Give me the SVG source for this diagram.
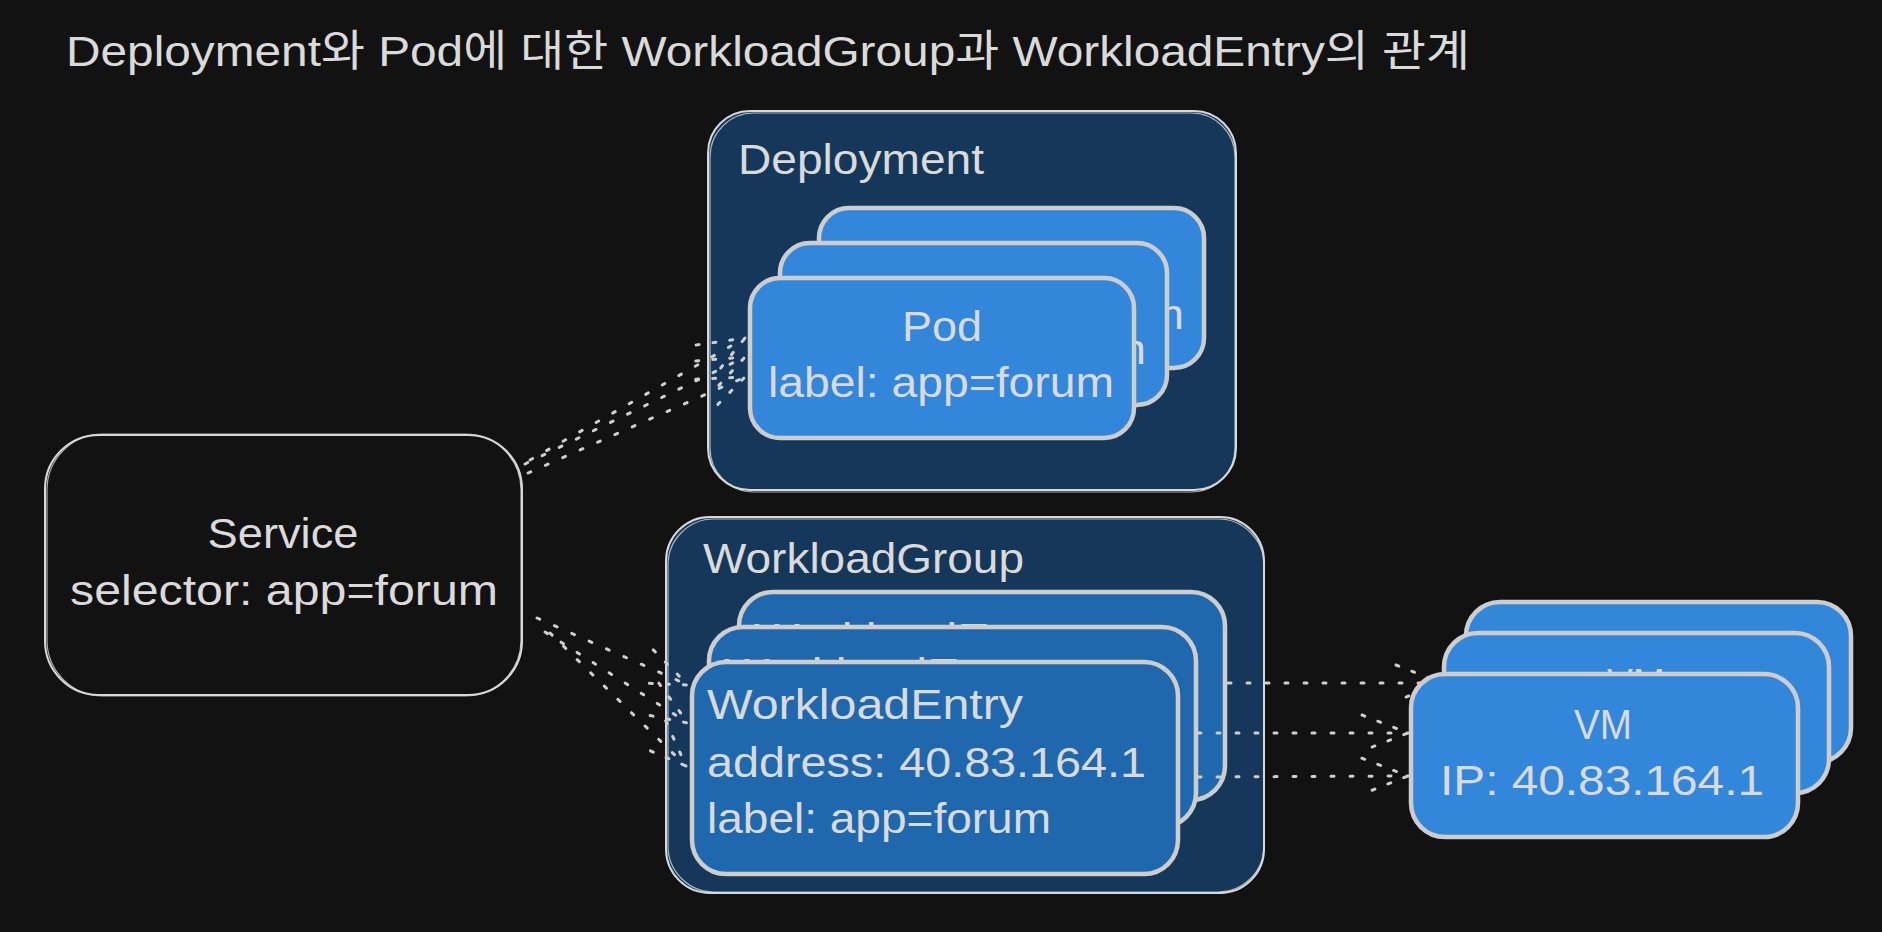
<svg xmlns="http://www.w3.org/2000/svg" width="1882" height="932" viewBox="0 0 1882 932">
<style>
text{font-family:"Liberation Sans","Noto Sans CJK KR",sans-serif;font-size:43px;fill:#dadada}
.c{text-anchor:middle}
.cont{fill:#15375a;stroke:#d8d8d8;stroke-width:2}
.sk{fill:none;stroke:#d8d8d8;stroke-width:1.2;opacity:.8}
.svc{fill:#121212;stroke:#d8d8d8;stroke-width:2}
.pod{fill:#3287db;stroke:#cdcdcd;stroke-width:4.5}
.we{fill:#2068ad;stroke:#cdcdcd;stroke-width:4.5}
.ln{fill:none;stroke:#cfcfcf;stroke-width:3;stroke-linecap:round;stroke-dasharray:3 16}
</style>
<defs>
<marker id="ah" markerUnits="userSpaceOnUse" orient="auto" refX="0" refY="0" markerWidth="60" markerHeight="60" viewBox="-55 -25 60 50" overflow="visible">
<path d="M-46,-18 L0,0 L-46,18" fill="none" stroke="#cfcfcf" stroke-width="3" stroke-linecap="round" stroke-dasharray="3 14"/>
</marker>
</defs>
<rect width="1882" height="932" fill="#121212"/>
<g id="title"><text x="66" y="66" textLength="1404" lengthAdjust="spacingAndGlyphs">Deployment와 Pod에 대한 WorkloadGroup과 WorkloadEntry의 관계</text></g>

<g id="deployment">
<rect class="cont" x="708" y="111" width="528" height="379" rx="42"/>
<rect class="sk" x="710" y="113" width="525" height="379" rx="44"/>
<text x="738" y="174" textLength="246" lengthAdjust="spacingAndGlyphs">Deployment</text>
</g>

<g id="workloadgroup">
<rect class="cont" x="666" y="517" width="598" height="376" rx="44"/>
<rect class="sk" x="668" y="519" width="596" height="373" rx="46"/>
<text x="703" y="573" textLength="321" lengthAdjust="spacingAndGlyphs">WorkloadGroup</text>
</g>

<g id="service">
<rect class="svc" x="45" y="435" width="477" height="260" rx="54"/>
<rect class="sk" x="47" y="434" width="474" height="262" rx="56"/>
<text class="c" x="283" y="548" textLength="151" lengthAdjust="spacingAndGlyphs">Service</text>
<text class="c" x="284" y="605" textLength="428" lengthAdjust="spacingAndGlyphs">selector: app=forum</text>
</g>

<g id="we-3">
<rect class="we" x="739" y="592" width="486" height="208" rx="34"/>
<text x="754" y="653" textLength="316" lengthAdjust="spacingAndGlyphs">WorkloadEntry</text>
<text x="754" y="710" textLength="439" lengthAdjust="spacingAndGlyphs">address: 40.83.164.1</text>
<text x="754" y="766" textLength="344" lengthAdjust="spacingAndGlyphs">label: app=forum</text>
</g>
<g id="we-2">
<rect class="we" x="709" y="627" width="487" height="200" rx="34"/>
<text x="724" y="688" textLength="316" lengthAdjust="spacingAndGlyphs">WorkloadEntry</text>
<text x="724" y="745" textLength="439" lengthAdjust="spacingAndGlyphs">address: 40.83.164.1</text>
<text x="724" y="801" textLength="344" lengthAdjust="spacingAndGlyphs">label: app=forum</text>
</g>
<g id="we-1">
<rect class="we" x="692" y="662" width="486" height="212" rx="34"/>
<text x="707" y="719" textLength="316" lengthAdjust="spacingAndGlyphs">WorkloadEntry</text>
<text x="707" y="777" textLength="439" lengthAdjust="spacingAndGlyphs">address: 40.83.164.1</text>
<text x="707" y="833" textLength="344" lengthAdjust="spacingAndGlyphs">label: app=forum</text>
</g>

<g id="pod-3">
<rect class="pod" x="819" y="208" width="385" height="160" rx="30"/>
<text class="c" x="1012" y="273" textLength="80" lengthAdjust="spacingAndGlyphs">Pod</text>
<text class="c" x="1011" y="329" textLength="346" lengthAdjust="spacingAndGlyphs">label: app=forum</text>
</g>
<g id="pod-2">
<rect class="pod" x="780" y="243" width="387" height="162" rx="30"/>
<text class="c" x="974" y="308" textLength="80" lengthAdjust="spacingAndGlyphs">Pod</text>
<text class="c" x="973" y="364" textLength="346" lengthAdjust="spacingAndGlyphs">label: app=forum</text>
</g>
<g id="pod-1">
<rect class="pod" x="750" y="278" width="384" height="160" rx="30"/>
<text class="c" x="942" y="341" textLength="80" lengthAdjust="spacingAndGlyphs">Pod</text>
<text class="c" x="941" y="397" textLength="346" lengthAdjust="spacingAndGlyphs">label: app=forum</text>
</g>

<g id="connectors">
<path class="ln" d="M530,460 L745,338" marker-end="url(#ah)"/>
<path class="ln" d="M525,464 L745,357" marker-end="url(#ah)"/>
<path class="ln" d="M528,473 L745,377" marker-end="url(#ah)"/>
<path class="ln" d="M537,618 L688,685" marker-end="url(#ah)"/>
<path class="ln" d="M545,632 L688,723" marker-end="url(#ah)"/>
<path class="ln" d="M550,633 L686,766" marker-end="url(#ah)"/>
<path class="ln" d="M1228,683 L1442,683" marker-end="url(#ah)"/>
<path class="ln" d="M1198,733 L1408,733" marker-end="url(#ah)"/>
<path class="ln" d="M1198,777 L1408,776" marker-end="url(#ah)"/>
</g>

<g id="vm-3">
<rect class="pod" x="1466" y="602" width="385" height="160" rx="34"/>
<text class="c" x="1658" y="667" textLength="58" lengthAdjust="spacingAndGlyphs">VM</text>
<text class="c" x="1657" y="723" textLength="324" lengthAdjust="spacingAndGlyphs">IP: 40.83.164.1</text>
</g>
<g id="vm-2">
<rect class="pod" x="1444" y="633" width="385" height="160" rx="34"/>
<text class="c" x="1636" y="698" textLength="58" lengthAdjust="spacingAndGlyphs">VM</text>
<text class="c" x="1635" y="754" textLength="324" lengthAdjust="spacingAndGlyphs">IP: 40.83.164.1</text>
</g>
<g id="vm-1">
<rect class="pod" x="1411" y="674" width="387" height="163" rx="34"/>
<text class="c" x="1603" y="739" textLength="58" lengthAdjust="spacingAndGlyphs">VM</text>
<text class="c" x="1602" y="795" textLength="324" lengthAdjust="spacingAndGlyphs">IP: 40.83.164.1</text>
</g>
</svg>
